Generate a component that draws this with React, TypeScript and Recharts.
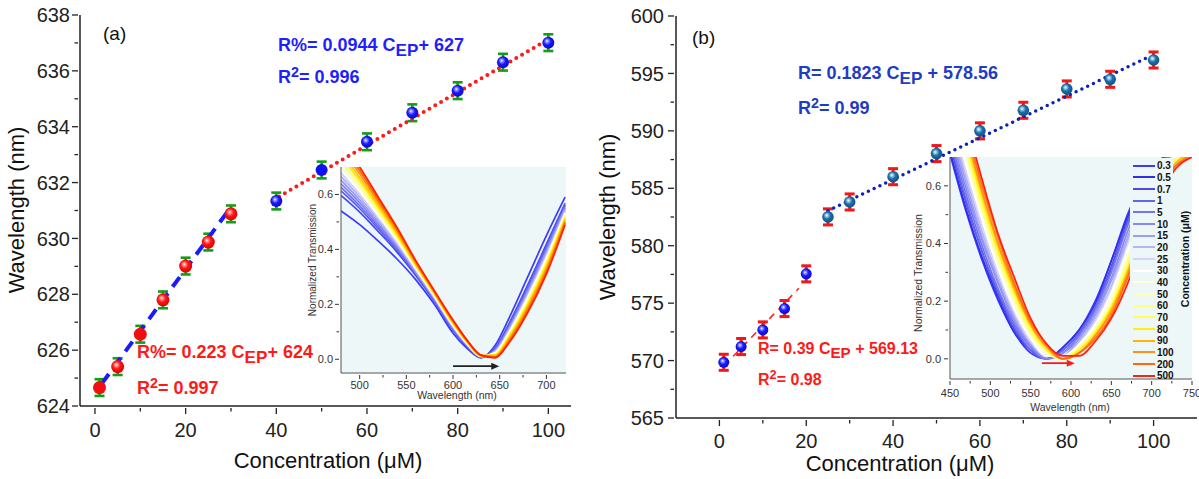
import React from "react";
import {
  ComposedChart,
  Scatter,
  ErrorBar,
  XAxis,
  YAxis,
  ReferenceLine,
  ReferenceDot,
  LineChart,
  Line,
  CartesianGrid,
} from "recharts";

const FONT = '"Liberation Sans", Arial, Helvetica, sans-serif';
const INSET_BG = "#eef7f7";

// ---------- panel (a): resonance wavelength vs concentration ----------
const aConcLow = [1, 5, 10, 15, 20, 25, 30];
const aWlLow = [624.66, 625.41, 626.57, 627.8, 629.01, 629.87, 630.88];
const aConcHigh = [40, 50, 60, 70, 80, 90, 100];
const aWlHigh = [631.34, 632.45, 633.46, 634.5, 635.29, 636.31, 637.01];
const aErr = 0.3;
const aFitLow = [
  { x: 1.5, y: 624.8 },
  { x: 29.8, y: 631.08 },
];
const aFitHigh = [
  { x: 40.6, y: 631.5 },
  { x: 99.7, y: 637.1 },
];
const aXTicks = [0, 10, 20, 30, 40, 50, 60, 70, 80, 90, 100];
const aXMajor = [0, 20, 40, 60, 80, 100];
const aYTicks = [624, 625, 626, 627, 628, 629, 630, 631, 632, 633, 634, 635, 636, 637, 638];
const aYMajor = [624, 626, 628, 630, 632, 634, 636, 638];
const aPlain = [1, 10, 50]; // markers drawn without the highlight

// ---------- panel (b) ----------
const bConcLow = [1, 5, 10, 15, 20];
const bWlLow = [569.85, 571.22, 572.67, 574.53, 577.55];
const bConcHigh = [25, 30, 40, 50, 60, 70, 80, 90, 100];
const bWlHigh = [582.51, 583.81, 586.01, 588.02, 590.0, 591.79, 593.65, 594.49, 596.17];
const bErr = 0.7;
const bFitLow = [
  { x: 1.1, y: 569.56 },
  { x: 18.3, y: 576.3 },
];
const bFitHigh = [
  { x: 25, y: 583.05 },
  { x: 99.2, y: 596.5 },
];
const bXTicks = [0, 10, 20, 30, 40, 50, 60, 70, 80, 90, 100];
const bXMajor = [0, 20, 40, 60, 80, 100];
const bYTicks = [565, 567.5, 570, 572.5, 575, 577.5, 580, 582.5, 585, 587.5, 590, 592.5, 595, 597.5, 600];
const bYMajor = [565, 570, 575, 580, 585, 590, 595, 600];

// ---------- inset (a): transmission spectra ----------
const aSpecWl = [480, 500, 520, 540, 560, 580, 600, 615, 630, 645, 660, 680, 700, 720];
const aSpectra = [
  [0.54, 0.49, 0.43, 0.365, 0.29, 0.2, 0.095, 0.04, 0.005, 0.05, 0.15, 0.3, 0.45, 0.59],
  [0.597, 0.536, 0.465, 0.39, 0.305, 0.211, 0.106, 0.047, 0.007, 0.04, 0.13, 0.271, 0.419, 0.568],
  [0.613, 0.549, 0.475, 0.397, 0.31, 0.214, 0.108, 0.048, 0.008, 0.037, 0.125, 0.264, 0.411, 0.562],
  [0.626, 0.559, 0.483, 0.403, 0.313, 0.217, 0.111, 0.05, 0.008, 0.035, 0.12, 0.257, 0.404, 0.557],
  [0.639, 0.57, 0.491, 0.409, 0.317, 0.219, 0.113, 0.051, 0.009, 0.033, 0.116, 0.251, 0.397, 0.552],
  [0.652, 0.58, 0.499, 0.414, 0.32, 0.222, 0.116, 0.053, 0.009, 0.031, 0.111, 0.244, 0.39, 0.547],
  [0.665, 0.591, 0.507, 0.42, 0.324, 0.224, 0.118, 0.054, 0.01, 0.028, 0.107, 0.238, 0.383, 0.542],
  [0.678, 0.601, 0.515, 0.426, 0.327, 0.227, 0.12, 0.056, 0.01, 0.026, 0.102, 0.231, 0.376, 0.537],
  [0.691, 0.612, 0.523, 0.432, 0.331, 0.229, 0.123, 0.057, 0.011, 0.024, 0.098, 0.225, 0.369, 0.532],
  [0.706, 0.624, 0.532, 0.439, 0.335, 0.232, 0.126, 0.059, 0.011, 0.021, 0.092, 0.217, 0.36, 0.526],
  [0.722, 0.637, 0.542, 0.446, 0.339, 0.235, 0.129, 0.061, 0.012, 0.018, 0.087, 0.209, 0.352, 0.52],
  [0.738, 0.65, 0.552, 0.452, 0.343, 0.238, 0.131, 0.063, 0.013, 0.016, 0.082, 0.201, 0.344, 0.514],
  [0.753, 0.662, 0.561, 0.459, 0.347, 0.241, 0.134, 0.065, 0.013, 0.013, 0.076, 0.193, 0.335, 0.508],
  [0.769, 0.675, 0.571, 0.466, 0.352, 0.244, 0.137, 0.066, 0.014, 0.01, 0.071, 0.186, 0.327, 0.502],
  [0.784, 0.687, 0.58, 0.473, 0.356, 0.247, 0.14, 0.068, 0.014, 0.008, 0.065, 0.178, 0.318, 0.496],
  [0.8, 0.7, 0.59, 0.48, 0.36, 0.25, 0.143, 0.07, 0.015, 0.005, 0.06, 0.17, 0.31, 0.49],
];
const aSpecColors = [
  "#3a3aff", "#4848f0", "#5a5af0", "#6c6cf2", "#8080f4", "#9898f6", "#b0b0f8", "#d0d0fb",
  "#ffffff", "#ffffb0", "#ffff60", "#ffe800", "#ffc000", "#ff9000", "#ff6000", "#ff2000",
];
const aArrow = [
  { x: 600, y: -0.025 },
  { x: 642, y: -0.025 },
];

// ---------- inset (b) ----------
const bSpecWl = [450, 470, 490, 510, 530, 550, 570, 590, 610, 630, 650, 670, 690, 710, 730, 750];
const bLegend = ["0.3", "0.5", "0.7", "1", "5", "10", "15", "20", "25", "30", "40", "50", "60", "70", "80", "90", "100", "200", "500"];
const bSpectra = [
  [0.71, 0.51, 0.34, 0.2, 0.09, 0.02, 0, 0.04, 0.1, 0.2, 0.34, 0.5, 0.62, 0.69, 0.71, 0.72],
  [0.72, 0.52, 0.35, 0.21, 0.09, 0.03, 0, 0.04, 0.1, 0.19, 0.34, 0.49, 0.62, 0.69, 0.71, 0.72],
  [0.74, 0.54, 0.37, 0.22, 0.1, 0.03, 0, 0.03, 0.09, 0.18, 0.32, 0.48, 0.61, 0.69, 0.71, 0.72],
  [0.75, 0.55, 0.37, 0.23, 0.11, 0.03, 0, 0.03, 0.09, 0.18, 0.31, 0.47, 0.6, 0.68, 0.71, 0.72],
  [0.77, 0.57, 0.39, 0.24, 0.12, 0.04, 0, 0.02, 0.08, 0.17, 0.3, 0.46, 0.59, 0.68, 0.71, 0.72],
  [0.79, 0.59, 0.41, 0.26, 0.13, 0.045, 0, 0.02, 0.07, 0.16, 0.28, 0.44, 0.58, 0.67, 0.71, 0.72],
  [0.81, 0.61, 0.42, 0.27, 0.14, 0.05, 0.01, 0.01, 0.07, 0.15, 0.27, 0.42, 0.57, 0.66, 0.7, 0.72],
  [0.83, 0.63, 0.44, 0.28, 0.15, 0.06, 0.01, 0.01, 0.06, 0.14, 0.25, 0.41, 0.56, 0.66, 0.7, 0.72],
  [0.85, 0.65, 0.46, 0.3, 0.16, 0.06, 0.01, 0.01, 0.05, 0.13, 0.24, 0.39, 0.54, 0.65, 0.7, 0.71],
  [0.87, 0.67, 0.48, 0.31, 0.17, 0.07, 0.01, 0.01, 0.05, 0.12, 0.23, 0.38, 0.53, 0.64, 0.7, 0.71],
  [0.89, 0.69, 0.5, 0.33, 0.19, 0.08, 0.02, 0, 0.04, 0.11, 0.21, 0.36, 0.52, 0.63, 0.69, 0.71],
  [0.91, 0.71, 0.51, 0.34, 0.2, 0.09, 0.02, 0, 0.04, 0.1, 0.2, 0.34, 0.5, 0.62, 0.69, 0.71],
  [0.92, 0.72, 0.52, 0.35, 0.21, 0.09, 0.03, 0, 0.04, 0.1, 0.19, 0.34, 0.49, 0.62, 0.69, 0.71],
  [0.94, 0.74, 0.54, 0.37, 0.22, 0.1, 0.03, 0, 0.03, 0.09, 0.18, 0.32, 0.48, 0.61, 0.69, 0.71],
  [0.95, 0.75, 0.55, 0.37, 0.23, 0.11, 0.03, 0, 0.03, 0.09, 0.18, 0.31, 0.47, 0.6, 0.68, 0.71],
  [0.96, 0.77, 0.57, 0.39, 0.24, 0.12, 0.04, 0, 0.02, 0.08, 0.17, 0.3, 0.46, 0.59, 0.68, 0.71],
  [0.96, 0.78, 0.58, 0.4, 0.25, 0.12, 0.04, 0, 0.02, 0.08, 0.16, 0.29, 0.45, 0.59, 0.67, 0.71],
  [0.98, 0.8, 0.6, 0.42, 0.26, 0.13, 0.05, 0, 0.02, 0.07, 0.15, 0.28, 0.43, 0.57, 0.67, 0.7],
  [0.99, 0.82, 0.62, 0.43, 0.28, 0.14, 0.05, 0.01, 0.01, 0.06, 0.14, 0.26, 0.42, 0.56, 0.66, 0.7],
];
const bSpecColors = [
  "#3b3bff", "#2f2fe6", "#4a4ae8", "#6464ec", "#7474f0", "#8888f4", "#9c9cf6", "#b4b4f8", "#d4d4fa",
  "#ffffff", "#ffffd8", "#ffffb0", "#ffff80", "#ffff50", "#ffee10", "#ffb400", "#ff9020", "#ff6a10", "#ff2010",
];
const bArrow = [
  { x: 564, y: -0.015 },
  { x: 596, y: -0.015 },
];

const specXA = [500, 525, 550, 575, 600, 625, 650, 675, 700];
const specXAMajor = [500, 550, 600, 650, 700];
const specXB = [450, 475, 500, 525, 550, 575, 600, 625, 650, 675, 700, 725, 750];
const specXBMajor = [450, 500, 550, 600, 650, 700, 750];
const specY = [0, 0.1, 0.2, 0.3, 0.4, 0.5, 0.6];
const specYMajor = [0, 0.2, 0.4, 0.6];

const pts = (xs: number[], ys: number[], err: number) =>
  xs.map((x, i) => ({ x, y: ys[i], err }));

const specRows = (wl: number[], curves: number[][]) =>
  wl.map((w, i) => {
    const row: Record<string, number> = { wl: w };
    curves.forEach((c, k) => (row["c" + k] = c[i]));
    return row;
  });

type TickOpts = {
  majors: number[];
  major: number;
  minor: number;
  size: number;
  gap: number;
  color: string;
  width: number;
  fmt?: (v: number) => string;
};

const bottomTick = (o: TickOpts) => (p: any) => {
  const v = p.payload.value;
  const isMajor = o.majors.includes(v);
  return (
    <g>
      <line x1={p.x} x2={p.x} y1={p.y} y2={p.y + (isMajor ? o.major : o.minor)} stroke={o.color} strokeWidth={o.width} />
      {isMajor ? (
        <text x={p.x} y={p.y + o.gap} textAnchor="middle" fontSize={o.size} fontFamily={FONT} fill={o.color}>
          {o.fmt ? o.fmt(v) : v}
        </text>
      ) : null}
    </g>
  );
};

const leftTick = (o: TickOpts) => (p: any) => {
  const v = p.payload.value;
  const isMajor = o.majors.includes(v);
  return (
    <g>
      <line x1={p.x} x2={p.x - (isMajor ? o.major : o.minor)} y1={p.y} y2={p.y} stroke={o.color} strokeWidth={o.width} />
      {isMajor ? (
        <text x={p.x - o.gap} y={p.y + o.size * 0.36} textAnchor="end" fontSize={o.size} fontFamily={FONT} fill={o.color}>
          {o.fmt ? o.fmt(v) : v}
        </text>
      ) : null}
    </g>
  );
};

const sphere = (grad: string, solid: string, r: number, plain: number[] = []) => (p: any) =>
  (
    <circle
      cx={p.cx}
      cy={p.cy}
      r={r}
      fill={plain.includes(p.payload?.x) ? solid : `url(#${grad})`}
    />
  );

function Gradients() {
  const g = (id: string, hi: string, mid: string, base: string, dark: string) => (
    <radialGradient id={id} cx="45%" cy="42%" r="60%" fx="38%" fy="36%">
      <stop offset="0%" stopColor={hi} />
      <stop offset="16%" stopColor={mid} />
      <stop offset="50%" stopColor={base} />
      <stop offset="100%" stopColor={dark} />
    </radialGradient>
  );
  return (
    <defs>
      {g("sRed", "#ffffff", "#ff9a9a", "#ff1414", "#d80000")}
      {g("sBlue", "#ffffff", "#a0a0ff", "#1818ff", "#0a0ac8")}
      {g("sTeal", "#ffffff", "#a6d2ee", "#1c6fa8", "#0f4f80")}
    </defs>
  );
}

const Text = ({ x, y, size, color = "#111", bold = false, rotate = 0, left = false, children }: any) => (
  <div
    style={{
      position: "absolute",
      left: x,
      top: y,
      transform: left ? "translateY(-50%)" : `translate(-50%,-50%) rotate(${rotate}deg)`,
      fontFamily: FONT,
      fontSize: size,
      fontWeight: bold ? 700 : 400,
      color,
      whiteSpace: "nowrap",
      lineHeight: 1,
    }}
  >
    {children}
  </div>
);

const Sub = ({ children }: any) => (
  <span style={{ fontSize: "0.95em", position: "relative", top: "0.28em" }}>{children}</span>
);
const Sup = ({ children }: any) => (
  <span style={{ fontSize: "0.8em", position: "relative", top: "-0.45em" }}>{children}</span>
);

const frame = { stroke: "#222", strokeWidth: 1.5 };

function MainA() {
  const xo: TickOpts = { majors: aXMajor, major: 6, minor: 3.5, size: 20, gap: 29, color: "#222", width: 1.3 };
  const yo: TickOpts = { majors: aYMajor, major: 6, minor: 3.5, size: 20, gap: 8, color: "#222", width: 1.3 };
  return (
    <ComposedChart width={600} height={479} margin={{ top: 15, right: 29, bottom: 0, left: 0 }}>
      <Gradients />
      <XAxis type="number" dataKey="x" domain={[-3.3, 105]} ticks={aXTicks} interval={0} tick={bottomTick(xo)} tickLine={false} tickSize={0} height={73} axisLine={frame} />
      <XAxis xAxisId="t" orientation="top" type="number" domain={[0, 1]} height={0} tick={false} tickLine={false} axisLine={frame} />
      <YAxis type="number" dataKey="y" domain={[624, 638]} ticks={aYTicks} interval={0} tick={leftTick(yo)} tickLine={false} tickSize={0} width={80} axisLine={frame} />
      <YAxis yAxisId="r" orientation="right" type="number" domain={[0, 1]} width={0} tick={false} tickLine={false} axisLine={frame} />
      <Scatter data={pts(aConcLow, aWlLow, aErr)} shape={sphere("sRed", "#f01010", 6.5, aPlain)} isAnimationActive={false}>
        <ErrorBar dataKey="err" direction="y" width={5} stroke="#169c16" strokeWidth={2.6} />
      </Scatter>
      <Scatter data={pts(aConcHigh, aWlHigh, aErr)} shape={sphere("sBlue", "#1010f0", 6, aPlain)} isAnimationActive={false}>
        <ErrorBar dataKey="err" direction="y" width={5} stroke="#169c16" strokeWidth={2.6} />
      </Scatter>
      <ReferenceLine segment={aFitLow} stroke="#1a1aff" strokeWidth={4} strokeDasharray="12 8" />
      <ReferenceLine segment={aFitHigh} stroke="#ff1a1a" strokeWidth={4} strokeDasharray="0 6.7" strokeLinecap="round" />
    </ComposedChart>
  );
}

function MainB() {
  const xo: TickOpts = { majors: bXMajor, major: 6, minor: 3.5, size: 20, gap: 28, color: "#222", width: 1.3 };
  const yo: TickOpts = { majors: bYMajor, major: 6, minor: 3.5, size: 20, gap: 10, color: "#222", width: 1.3 };
  return (
    <ComposedChart width={599} height={479} margin={{ top: 16, right: 2, bottom: 0, left: 0 }}>
      <Gradients />
      <XAxis type="number" dataKey="x" domain={[-10, 110]} ticks={bXTicks} interval={0} tick={bottomTick(xo)} tickLine={false} tickSize={0} height={61} axisLine={frame} />
      <XAxis xAxisId="t" orientation="top" type="number" domain={[0, 1]} height={0} tick={false} tickLine={false} axisLine={frame} />
      <YAxis type="number" dataKey="y" domain={[565, 600]} ticks={bYTicks} interval={0} tick={leftTick(yo)} tickLine={false} tickSize={0} width={76} axisLine={frame} />
      <YAxis yAxisId="r" orientation="right" type="number" domain={[0, 1]} width={0} tick={false} tickLine={false} axisLine={frame} />
      <Scatter data={pts(bConcLow, bWlLow, bErr)} shape={sphere("sBlue", "#1010f0", 5.5)} isAnimationActive={false}>
        <ErrorBar dataKey="err" direction="y" width={5} stroke="#f01818" strokeWidth={3} />
      </Scatter>
      <Scatter data={pts(bConcHigh, bWlHigh, bErr)} shape={sphere("sTeal", "#14609a", 5.8)} isAnimationActive={false}>
        <ErrorBar dataKey="err" direction="y" width={5} stroke="#f01818" strokeWidth={3} />
      </Scatter>
      <ReferenceLine segment={bFitLow} stroke="#ff2020" strokeWidth={1.6} strokeDasharray="7 6" />
      <ReferenceLine segment={bFitHigh} stroke="#0a22b8" strokeWidth={3.5} strokeDasharray="0 6.4" strokeLinecap="round" />
    </ComposedChart>
  );
}

const arrowHead = (color: string) => (p: any) =>
  <path d={`M${p.cx - 1},${p.cy - 3.5} L${p.cx + 7},${p.cy} L${p.cx - 1},${p.cy + 3.5} Z`} fill={color} />;

function Inset({ w, h, margin, yWidth, xHeight, domainX, domainY, wl, curves, colors, xTicks, xMajor, arrow, arrowColor, xGap, yGap }: any) {
  const thin = { stroke: "#555", strokeWidth: 1 };
  const xo: TickOpts = { majors: xMajor, major: 4, minor: 2.5, size: 11, gap: xGap, color: "#333", width: 1 };
  const yo: TickOpts = { majors: specYMajor, major: 4, minor: 2.5, size: 11, gap: yGap, color: "#333", width: 1, fmt: (v) => v.toFixed(1) };
  return (
    <LineChart width={w} height={h} data={specRows(wl, curves)} margin={margin}>
      <CartesianGrid fill={INSET_BG} stroke="none" horizontal={false} vertical={false} />
      <XAxis type="number" dataKey="wl" domain={domainX} allowDataOverflow ticks={xTicks} interval={0} tick={bottomTick(xo)} tickLine={false} tickSize={0} height={xHeight} axisLine={thin} />
      <XAxis xAxisId="t" orientation="top" type="number" domain={[0, 1]} height={0} tick={false} tickLine={false} axisLine={thin} />
      <YAxis type="number" domain={domainY} allowDataOverflow ticks={specY} interval={0} tick={leftTick(yo)} tickLine={false} tickSize={0} width={yWidth} axisLine={thin} />
      <YAxis yAxisId="r" orientation="right" type="number" domain={[0, 1]} width={0} tick={false} tickLine={false} axisLine={thin} />
      {curves.map((_: number[], k: number) => (
        <Line key={k} type="monotone" dataKey={"c" + k} stroke={colors[k]} strokeWidth={1.7} dot={false} isAnimationActive={false} />
      ))}
      <ReferenceLine segment={arrow} stroke={arrowColor} strokeWidth={1.8} />
      <ReferenceDot x={arrow[1].x} y={arrow[1].y} r={0} shape={arrowHead(arrowColor)} />
    </LineChart>
  );
}

export default function App() {
  const abs = (left: number, top: number): React.CSSProperties => ({ position: "absolute", left, top });
  return (
    <div style={{ position: "absolute", left: 0, top: 0, width: 1199, height: 479, background: "#fff", overflow: "hidden", fontFamily: FONT }}>
      <div style={abs(0, 0)}>
        <MainA />
      </div>
      <div style={abs(600, 0)}>
        <MainB />
      </div>
      <div style={abs(300, 160)}>
        <Inset w={280} h={250} margin={{ top: 7, right: 14, bottom: 0, left: 0 }} yWidth={41} xHeight={37}
          domainX={[480, 721]} domainY={[-0.05, 0.7]} wl={aSpecWl} curves={aSpectra} colors={aSpecColors}
          xTicks={specXA} xMajor={specXAMajor} arrow={aArrow} arrowColor="#222" xGap={14} yGap={6} />
      </div>
      <div style={abs(900, 150)}>
        <Inset w={299} h={250} margin={{ top: 7, right: 7, bottom: 0, left: 0 }} yWidth={50} xHeight={21}
          domainX={[450, 750]} domainY={[-0.07, 0.7]} wl={bSpecWl} curves={bSpectra} colors={bSpecColors}
          xTicks={specXB} xMajor={specXBMajor} arrow={bArrow} arrowColor="#ff1a1a" xGap={16} yGap={7} />
      </div>

      {/* legend of inset (b) */}
      <div style={{ position: "absolute", left: 1130, top: 158, width: 43, height: 220, background: INSET_BG }} />
      <div style={{ position: "absolute", left: 1173, top: 183, width: 19, height: 195, background: INSET_BG }} />
      {bLegend.map((lab, i) => (
        <div key={lab} style={{ position: "absolute", left: 1133, top: 165.7 + i * 11.67 - 6, height: 12, display: "flex", alignItems: "center" }}>
          <div style={{ width: 22, height: 2, background: bSpecColors[i] }} />
          <span style={{ fontFamily: FONT, fontSize: 10, fontWeight: 700, marginLeft: 2, color: "#111" }}>{lab}</span>
        </div>
      ))}
      <Text x={1185} y={259} size={10.5} bold rotate={-90}>Concentration (μM)</Text>

      {/* axis titles */}
      <Text x={17} y={210} size={22} rotate={-90}>Wavelength (nm)</Text>
      <Text x={328} y={461} size={22}>Concentration (μM)</Text>
      <Text x={608} y={217} size={22} rotate={-90}>Wavelength (nm)</Text>
      <Text x={900} y={464} size={22}>Concentration (μM)</Text>
      <Text x={313} y={260} size={10} color="#333" rotate={-90}>Normalized Transmission</Text>
      <Text x={457} y={395} size={10.5} color="#333">Wavelength (nm)</Text>
      <Text x={918} y={273} size={10.5} color="#333" rotate={-90}>Normalized Transmission</Text>
      <Text x={1070} y={407} size={10.5} color="#333">Wavelength (nm)</Text>

      {/* panel labels and fits */}
      <Text x={103} y={33} size={19} left>(a)</Text>
      <Text x={692} y={37} size={19} left>(b)</Text>
      <Text x={278} y={45} size={18} bold left color="#1f1fff">R%= 0.0944 C<Sub>EP</Sub>+ 627</Text>
      <Text x={278} y={77} size={18} bold left color="#1f1fff">R<Sup>2</Sup>= 0.996</Text>
      <Text x={137} y={352} size={18} bold left color="#ff1a1a">R%= 0.223 C<Sub>EP</Sub>+ 624</Text>
      <Text x={137} y={388} size={18} bold left color="#ff1a1a">R<Sup>2</Sup>= 0.997</Text>
      <Text x={798} y={73} size={18} bold left color="#1f3cc4">R= 0.1823 C<Sub>EP</Sub> + 578.56</Text>
      <Text x={798} y={108} size={18} bold left color="#1f3cc4">R<Sup>2</Sup>= 0.99</Text>
      <Text x={758} y={349} size={16} bold left color="#ff1a1a">R= 0.39 C<Sub>EP</Sub> + 569.13</Text>
      <Text x={758} y={380} size={16} bold left color="#ff1a1a">R<Sup>2</Sup>= 0.98</Text>
    </div>
  );
}
